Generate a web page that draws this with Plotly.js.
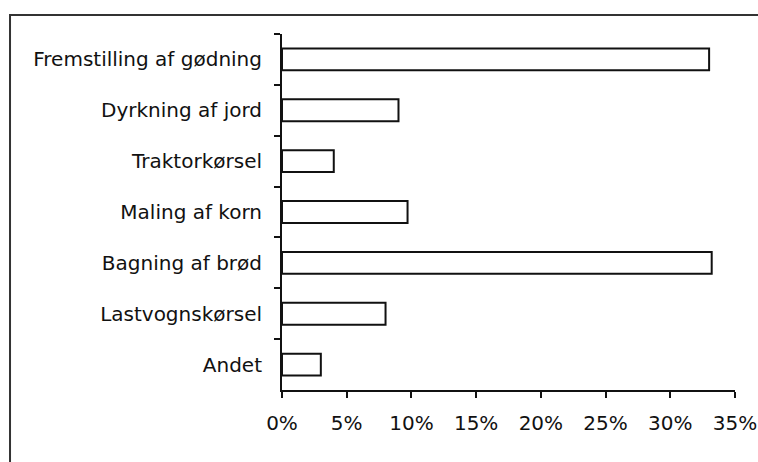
<!DOCTYPE html>
<html>
<head>
<meta charset="utf-8">
<script src="https://cdn.plot.ly/plotly-3.0.1.min.js"></script>
<style>
html,body{margin:0;padding:0;background:#fff;}
#chart{width:758px;height:462px;}
</style>
</head>
<body>
<div id="chart"></div>
<script>
const categories = ["Fremstilling af gødning", "Dyrkning af jord", "Traktorkørsel", "Maling af korn", "Bagning af brød", "Lastvognskørsel", "Andet"];
const shares = [0.330, 0.090, 0.040, 0.097, 0.332, 0.080, 0.030];
const xTickVals = [0, 0.05, 0.10, 0.15, 0.20, 0.25, 0.30, 0.35];
const xTickText = ["0%", "5%", "10%", "15%", "20%", "25%", "30%", "35%"];

const font = {family: "DejaVu Sans, sans-serif", size: 20, color: "#111"};

const trace = {
  type: "bar",
  orientation: "h",
  x: shares,
  y: categories,
  marker: {color: "#ffffff", line: {color: "#111", width: 2}},
  hoverinfo: "skip"
};

const layout = {
  width: 758,
  height: 462,
  margin: {l: 282, r: 23, t: 34, b: 72, pad: 0},
  paper_bgcolor: "#fff",
  plot_bgcolor: "#fff",
  showlegend: false,
  bargap: 0.57,
  font: font,
  xaxis: {
    range: [0, 0.35],
    tickvals: xTickVals,
    ticktext: xTickText,
    ticks: "outside",
    ticklen: 6,
    tickwidth: 2,
    tickcolor: "#111",
    showline: true,
    linecolor: "#111",
    linewidth: 2,
    showgrid: false,
    zeroline: false,
    ticklabelstandoff: 8,
    tickfont: font,
    fixedrange: true
  },
  yaxis: {
    type: "category",
    categoryorder: "array",
    categoryarray: categories,
    autorange: "reversed",
    ticks: "outside",
    tickson: "boundaries",
    ticklen: 6,
    tickwidth: 2,
    tickcolor: "#111",
    showline: true,
    linecolor: "#111",
    linewidth: 2,
    showgrid: false,
    zeroline: false,
    ticklabelstandoff: 14,
    tickfont: font,
    fixedrange: true
  },
  shapes: [{
    type: "rect",
    xref: "paper", yref: "paper",
    x0: -0.6004, x1: 1.06, y0: -0.23, y1: 1.0534,
    line: {color: "#333", width: 2},
    fillcolor: "rgba(0,0,0,0)",
    layer: "below"
  }]
};

Plotly.newPlot("chart", [trace], layout, {displayModeBar: false, staticPlot: true});
</script>
</body>
</html>
